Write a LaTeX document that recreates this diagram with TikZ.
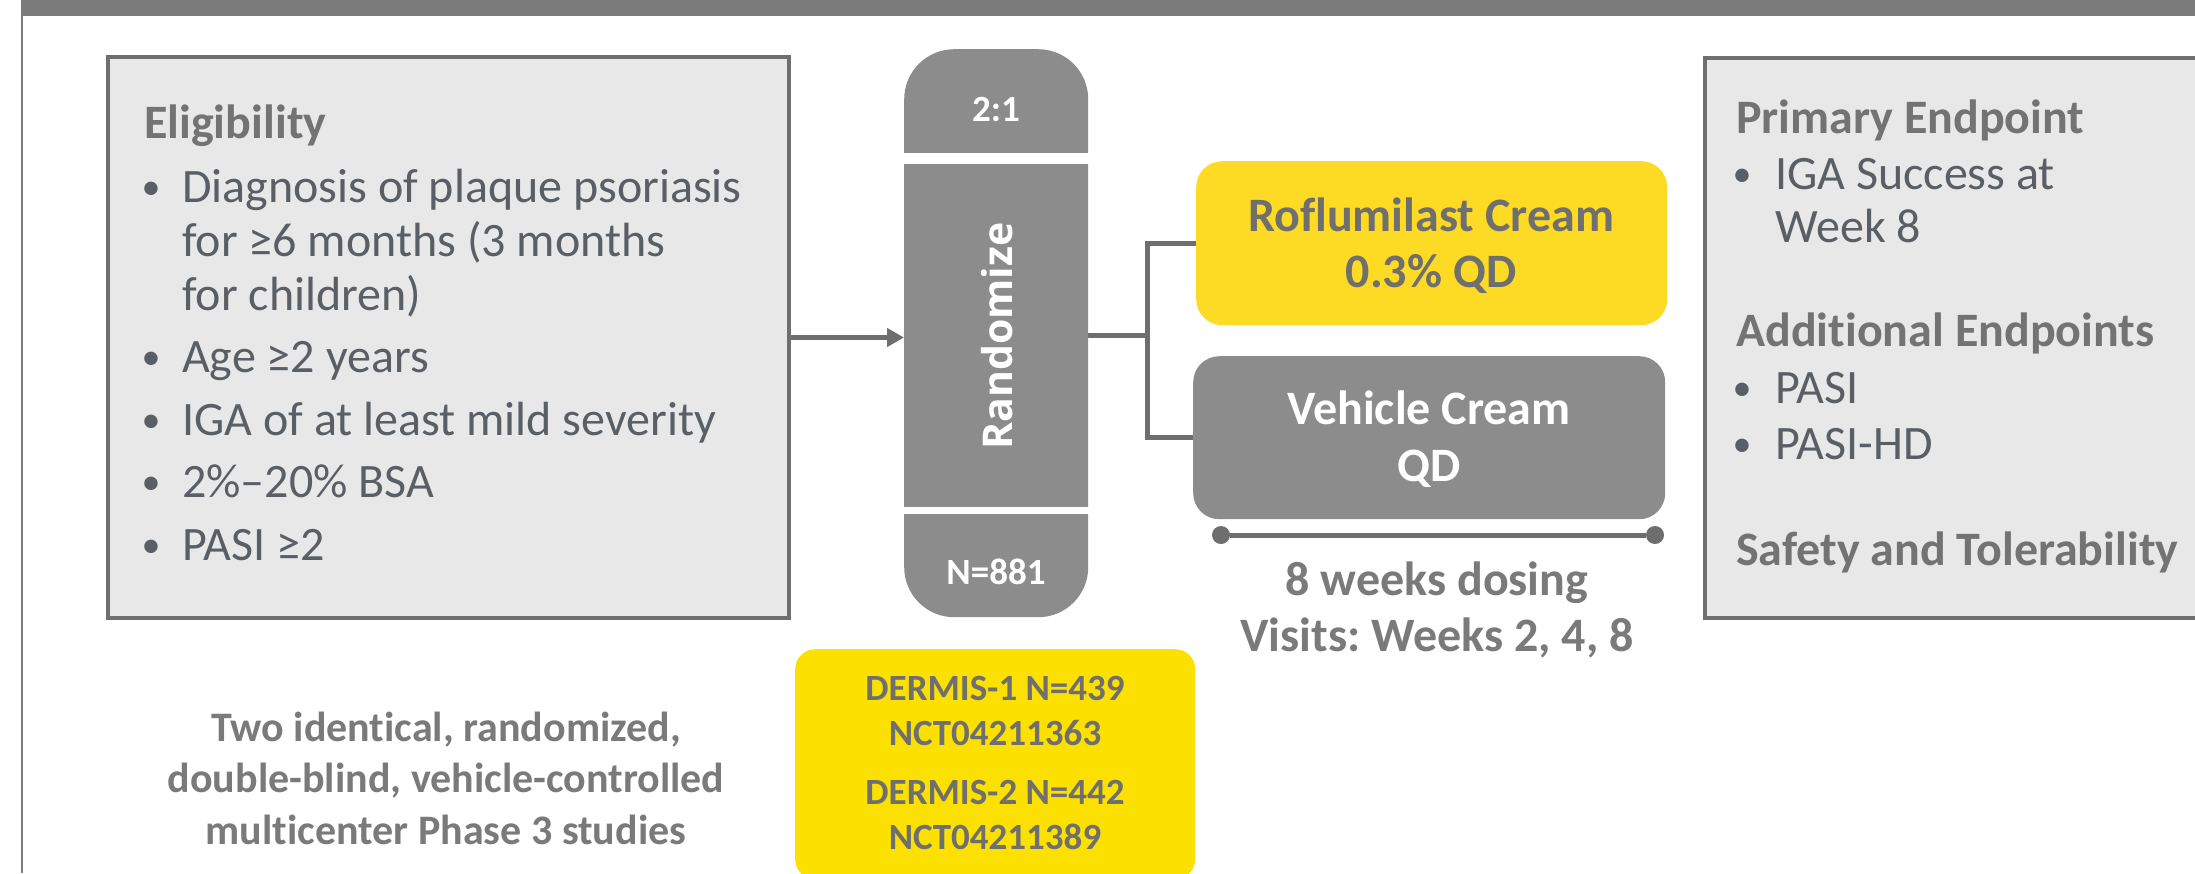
\documentclass[tikz,border=0pt]{standalone}
\usepackage{fontspec}
\setmainfont{Carlito}[Ligatures=NoCommon]
\newfontfamily\randfont{Open Sans}
\usetikzlibrary{arrows.meta}
\frenchspacing
\definecolor{framegray}{HTML}{7B7B7B}
\definecolor{boxfill}{HTML}{E8E8E8}
\definecolor{boxline}{HTML}{6F6F6F}
\definecolor{pillgray}{HTML}{8C8C8C}
\definecolor{linegray}{HTML}{6E6E6E}
\definecolor{headgray}{HTML}{737373}
\definecolor{bodygray}{HTML}{5A5F66}
\definecolor{rofyellow}{HTML}{FDDB24}
\definecolor{dermyellow}{HTML}{FBE000}
\definecolor{txtgray}{HTML}{6F6F6F}
\definecolor{notegray}{HTML}{7A7A7A}
\tikzset{
  panel/.style={draw=boxline, line width=4pt, fill=boxfill, inner sep=0pt, anchor=north west},
  heading/.style={anchor=base west, inner sep=0pt, font=\fontsize{48}{55}\selectfont\bfseries, text=headgray},
  body/.style={anchor=base west, inner sep=0pt, font=\fontsize{48}{55}\selectfont, text=bodygray},
  bul/.style={anchor=base, inner sep=0pt, font=\fontsize{38}{40}\selectfont, text=bodygray},
  armbox/.style={rounded corners=26pt, inner sep=0pt, anchor=north west, minimum width=471pt, minimum height=164pt},
  armtext/.style={anchor=base, inner sep=0pt, font=\fontsize{48}{55}\selectfont\bfseries},
  pilltext/.style={anchor=base, inner sep=0pt, text=white, font=\fontsize{37}{40}\selectfont\bfseries},
  dermtext/.style={anchor=base, inner sep=0pt, text=txtgray, font=\fontsize{37}{40}\selectfont\bfseries},
  notetext/.style={anchor=base, inner sep=0pt, text=notegray, font=\fontsize{42}{50}\selectfont\bfseries},
  dosetext/.style={anchor=base, inner sep=0pt, text=notegray, font=\fontsize{48}{55}\selectfont\bfseries},
  conn/.style={draw=linegray, line width=5pt},
  dot/.style={circle, fill=linegray, minimum size=18pt, inner sep=0pt},
}
\newcommand{\bdot}{\raisebox{3pt}{•}}
\begin{document}
\begin{tikzpicture}[x=1pt,y=-1pt]
\useasboundingbox (0,0) rectangle (2195,873);
\clip (0,0) rectangle (2195,873);
% frame
\fill[framegray] (21,0) rectangle (2195,16);
\draw[framegray, line width=2pt] (22,16) -- (22,873);

% eligibility panel
\node[panel, minimum width=681pt, minimum height=561pt] (elig) at (106,55) {};
\node[heading] (eligh) at (144,138) {Eligibility};
\node[bul] (eb1) at (151,202) {\bdot};
\node[body] (e1a) at (182,202) {Diagnosis of plaque psoriasis};
\node[body] (e1b) at (182,256) {for ≥6 months (3 months};
\node[body] (e1c) at (182,310) {for children)};
\node[bul] (eb2) at (151,372) {\bdot};
\node[body] (e2) at (182,372) {Age ≥2 years};
\node[bul] (eb3) at (151,435) {\bdot};
\node[body] (e3) at (182,435) {IGA of at least mild severity};
\node[bul] (eb4) at (151,497) {\bdot};
\node[body] (e4) at (182,497) {2\%–20\% BSA};
\node[bul] (eb5) at (151,560) {\bdot};
\node[body] (e5) at (182,560) {PASI ≥2};

% endpoints panel
\node[panel, minimum width=600pt, minimum height=560pt] (endp) at (1703,56) {};
\node[heading] (ph) at (1736,133) {Primary Endpoint};
\node[bul] (pb1) at (1742,189) {\bdot};
\node[body] (p1a) at (1775,189) {IGA Success at};
\node[body] (p1b) at (1775,242) {Week 8};
\node[heading] (ah) at (1736,346) {Additional Endpoints};
\node[bul] (ab1) at (1742,403) {\bdot};
\node[body] (a1) at (1775,403) {PASI};
\node[bul] (ab2) at (1742,459) {\bdot};
\node[body] (a2) at (1775,459) {PASI-HD};
\node[heading] (sh) at (1736,565) {Safety and Tolerability};

% randomization pill
\node[fill=pillgray, rounded corners=50pt, inner sep=0pt, anchor=north west, minimum width=184pt, minimum height=568pt] (pill) at (904,49) {};
\fill[white] (900,153) rectangle (1092,164);
\fill[white] (900,507) rectangle (1092,514);
\node[inner sep=0pt, anchor=north west, minimum width=184pt, minimum height=343pt] (rand) at (904,164) {};
\node[pilltext] (ratio) at (996,121) {2:1};
\node[rotate=90, inner sep=0pt, text=white, font=\randfont\bfseries\fontsize{41}{44}\selectfont] (randtxt) at (997,336) {Randomize};
\node[pilltext] (ntot) at (996,584) {N=881};

% arms
\node[armbox, fill=rofyellow] (rof) at (1196,161) {};
\node[armtext, text=txtgray] (rof1) at (1431,231) {Roflumilast Cream};
\node[armtext, text=txtgray] (rof2) at (1431,287) {0.3\% QD};
\node[armbox, fill=pillgray, minimum width=472pt, minimum height=163pt] (veh) at (1193,356) {};
\node[armtext, text=white] (veh1) at (1429,424) {Vehicle Cream};
\node[armtext, text=white] (veh2) at (1429,481) {QD};

% connectors
\draw[conn, -{Triangle[length=17pt,width=18pt]}] (elig.east) -- (elig.east -| rand.west);
\path (rand.east) ++(59,0) coordinate (split);
\draw[conn] (rand.east) -- (split);
\draw[conn, line join=miter] (rof.west) -| (split) |- (veh.west);

% timeline
\node[dot] (t1) at (1221,535) {};
\node[dot] (t2) at (1655,535) {};
\draw[conn] (t1) -- (t2);
\node[dosetext] (dose1) at (1437,595) {8 weeks dosing};
\node[dosetext] (dose2) at (1437,651) {Visits: Weeks 2, 4, 8};

% studies box
\node[fill=dermyellow, rounded corners=20pt, inner sep=0pt, anchor=north west, minimum width=400pt, minimum height=230pt] (derm) at (795,649) {};
\node[dermtext] (d1) at (995,700) {DERMIS-1 N=439};
\node[dermtext] (d2) at (995,745) {NCT04211363};
\node[dermtext] (d3) at (995,804) {DERMIS-2 N=442};
\node[dermtext] (d4) at (995,849) {NCT04211389};

% note
\node[notetext] (n1) at (446,741) {Two identical, randomized,};
\node[notetext] (n2) at (446,792) {double-blind, vehicle-controlled};
\node[notetext] (n3) at (446,844) {multicenter Phase 3 studies};
\end{tikzpicture}
\end{document}
